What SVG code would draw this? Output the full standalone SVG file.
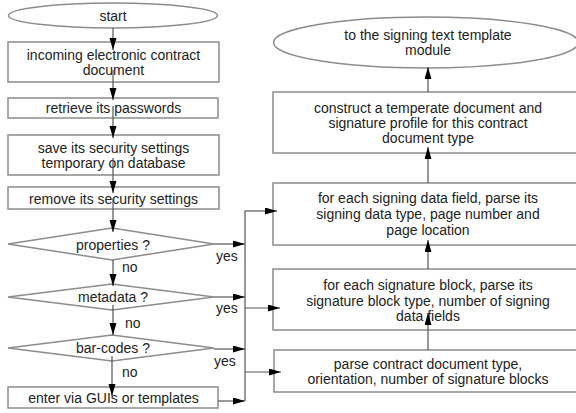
<svg xmlns="http://www.w3.org/2000/svg" width="576" height="413" viewBox="0 0 576 413">
<defs>
<marker id="ah" markerUnits="userSpaceOnUse" markerWidth="13" markerHeight="8" refX="12" refY="3.5" orient="auto">
<path d="M0,0 L12,3.5 L0,7 z" fill="#000"/>
</marker>
<style>
.s{fill:#fff;stroke:#8c8c8c;stroke-width:1.5}
.t{font-family:"Liberation Sans",Arial,sans-serif;font-size:14px;fill:#222;text-anchor:middle}
.l{font-family:"Liberation Sans",Arial,sans-serif;font-size:14px;fill:#222}
.c{fill:none;stroke:#555;stroke-width:1.2}
.a{fill:none;stroke:#555;stroke-width:1.2;marker-end:url(#ah)}
</style>
</defs>
<rect width="576" height="413" fill="#fff"/>
<g id="start"><ellipse class="s" cx="113" cy="15.5" rx="104.5" ry="12.5"/><text class="t" x="113" y="21">start</text></g>
<g id="incoming"><rect class="s" x="8" y="42" width="211" height="40"/><text class="t" x="113.5" y="60">incoming electronic contract</text><text class="t" x="113.5" y="75">document</text></g>
<g id="retrieve"><rect class="s" x="8" y="98" width="210" height="20"/><text class="t" x="113.5" y="113">retrieve its passwords</text></g>
<g id="save"><rect class="s" x="8" y="135" width="211" height="40"/><text class="t" x="113.5" y="153">save its security settings</text><text class="t" x="113.5" y="168">temporary on database</text></g>
<g id="remove"><rect class="s" x="8" y="187" width="211" height="22"/><text class="t" x="113.5" y="204">remove its security settings</text></g>
<g id="properties"><polygon class="s" points="8,244 112,228 214,244 112,260"/><text class="t" x="113" y="250">properties  ?</text></g>
<g id="metadata"><polygon class="s" points="8,297 112,284 214,297 112,310"/><text class="t" x="113" y="302">metadata ?</text></g>
<g id="barcodes"><polygon class="s" points="8,348 112,335 214,348 112,361"/><text class="t" x="113" y="353">bar-codes  ?</text></g>
<g id="enter"><rect class="s" x="8" y="387" width="210" height="21"/><text class="t" x="113.5" y="403">enter via GUIs or templates</text></g>
<g id="module"><ellipse class="s" cx="426" cy="42.5" rx="152.5" ry="25.5"/><text class="t" x="428" y="40">to the signing text template</text><text class="t" x="428" y="55">module</text></g>
<g id="construct"><rect class="s" x="273" y="92" width="312" height="61"/><text class="t" x="428" y="113">construct a temperate document and</text><text class="t" x="428" y="128">signature profile for this contract</text><text class="t" x="428" y="143">document type</text></g>
<g id="field"><rect class="s" x="273" y="183" width="312" height="62"/><text class="t" x="428" y="203">for each signing data field, parse its</text><text class="t" x="428" y="219">signing data type, page number and</text><text class="t" x="428" y="235">page location</text></g>
<g id="block"><rect class="s" x="273" y="269" width="312" height="61"/><text class="t" x="428" y="290">for each signature block, parse its</text><text class="t" x="428" y="306">signature block type, number of signing</text><text class="t" x="428" y="321">data fields</text></g>
<g id="parse"><rect class="s" x="274" y="350" width="311" height="42"/><text class="t" x="428" y="369">parse contract document type,</text><text class="t" x="428" y="384">orientation, number of signature blocks</text></g>
<g id="connectors">
<path class="a" d="M113,28 V50"/>
<path class="a" d="M113,70 V100"/>
<path class="a" d="M113,106 V138"/>
<path class="a" d="M113,158 V193"/>
<path class="a" d="M113,198 V232"/>
<path class="a" d="M113,260 V286"/>
<path class="a" d="M113,305 V335"/>
<path class="a" d="M112,356 V396"/>
<path class="a" d="M214,244 H245"/>
<path class="a" d="M214,297 H245"/>
<path class="a" d="M214,349 H245"/>
<path class="a" d="M218,401 H245"/>
<path class="c" d="M245,401 V211"/>
<path class="a" d="M245,211 H277"/>
<path class="a" d="M245,308 H280"/>
<path class="a" d="M245,372 H281"/>
<path class="a" d="M428,350 V313"/>
<path class="a" d="M428,269 V240"/>
<path class="a" d="M428,183 V147"/>
<path class="a" d="M428,92 V67"/>
<text class="l" x="122" y="272">no</text>
<text class="l" x="125" y="328">no</text>
<text class="l" x="122" y="377">no</text>
<text class="l" x="216" y="261">yes</text>
<text class="l" x="216" y="313">yes</text>
<text class="l" x="214" y="366">yes</text>
</g>
</svg>
